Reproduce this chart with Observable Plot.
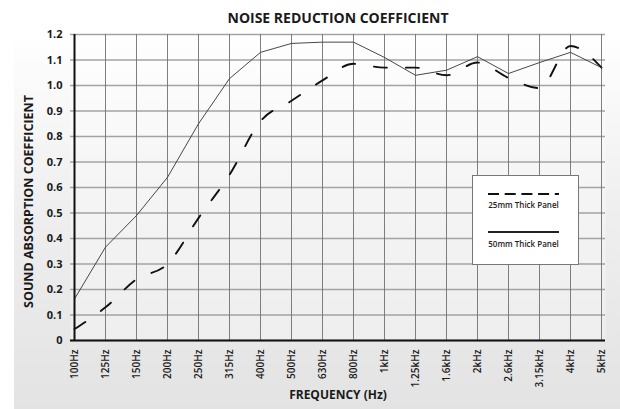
<!DOCTYPE html>
<html>
<head>
<meta charset="utf-8">
<script src="https://cdn.jsdelivr.net/npm/d3@7"></script>
<script src="https://cdn.jsdelivr.net/npm/@observablehq/plot@0.6"></script>
<style>
  html, body { margin: 0; padding: 0; background: #fff; }
  #wrap { position: relative; width: 620px; height: 409px; overflow: hidden; font-family: "Open Sans", sans-serif; }
  #bg { position: absolute; left: 14px; top: 0; width: 606px; height: 409px;
        background: linear-gradient(to bottom, #ffffff 0%, #ffffff 8%, #efefef 50%, #e3e3e3 100%); }
  #chart { position: absolute; left: 0; top: 0; }
  #legend { position: absolute; left: 472px; top: 175px; }
</style>
</head>
<body>
<div id="wrap">
  <div id="bg"></div>
  <div id="chart"></div>
  <div id="legend"></div>
</div>
<script>
const frequencies = ["100Hz","125Hz","150Hz","200Hz","250Hz","315Hz","400Hz","500Hz","630Hz","800Hz","1kHz","1.25kHz","1.6kHz","2kHz","2.6kHz","3.15kHz","4kHz","5kHz"];
const panel25mm = [0.045,0.13,0.24,0.30,0.48,0.65,0.86,0.94,1.02,1.085,1.07,1.07,1.04,1.09,1.03,0.99,1.155,1.07];
const panel50mm = [0.163,0.366,0.49,0.64,0.85,1.027,1.13,1.165,1.17,1.17,1.11,1.04,1.06,1.113,1.047,1.09,1.13,1.07];
const yTicks = [0,0.1,0.2,0.3,0.4,0.5,0.6,0.7,0.8,0.9,1.0,1.1,1.2];
const seriesNames = ["25mm Thick Panel","50mm Thick Panel"];
const titleText = "NOISE REDUCTION COEFFICIENT";
const yTitle = "SOUND ABSORPTION COEFFICIENT";
const xTitle = "FREQUENCY (Hz)";

const rows25 = frequencies.map((f, i) => ({f, v: panel25mm[i]}));
const rows50 = frequencies.map((f, i) => ({f, v: panel50mm[i]}));

const chart = Plot.plot({
  width: 620,
  height: 409,
  marginLeft: 70,
  marginRight: 15,
  marginTop: 34,
  marginBottom: 69,
  style: {background: "transparent", fontFamily: "Open Sans, sans-serif", color: "#1a1a1a"},
  x: {type: "point", domain: frequencies, padding: 0, label: null},
  y: {domain: [0, 1.2], label: null},
  marks: [
    Plot.frame({fill: "white", fillOpacity: 0.3, stroke: "none"}),
    Plot.gridY(yTicks, {stroke: "#a3a3a3", strokeWidth: 1.3, strokeOpacity: 1}),
    Plot.gridX(frequencies, {stroke: "#707070", strokeWidth: 0.9, strokeOpacity: 1}),
    Plot.line(rows25, {x: "f", y: "v", stroke: "#111", strokeWidth: 1.9, strokeDasharray: "13,19", curve: "monotone-x"}),
    Plot.line(rows50, {x: "f", y: "v", stroke: "#333", strokeWidth: 0.9}),
    Plot.ruleX([frequencies[0]], {stroke: "#111", strokeWidth: 2}),
    Plot.ruleY([0], {stroke: "#111", strokeWidth: 2}),
    Plot.axisY(yTicks, {tickSize: 0, tickPadding: 8, fontSize: 11, fontWeight: 700, label: null,
      tickFormat: d => d === 0 ? "0" : d.toFixed(1)}),
    Plot.axisX({tickSize: 0, tickPadding: 9, tickRotate: -90, fontSize: 10, fontWeight: 600, label: null}),
    Plot.text([titleText], {frameAnchor: "top", dy: -21, fontSize: 14, fontWeight: 700, fill: "#1a1a1a"}),
    Plot.text([xTitle], {frameAnchor: "bottom", dy: 58, fontSize: 12, fontWeight: 700, fill: "#1a1a1a"}),
    Plot.text([yTitle], {frameAnchor: "left", textAnchor: "middle", dx: -42, dy: 14, rotate: -90, fontSize: 12.5, fontWeight: 700, fill: "#1a1a1a"})
  ]
});
document.getElementById("chart").appendChild(chart);

// legend
const lg = d3.select("#legend").append("svg").attr("width", 108).attr("height", 91);
lg.append("rect").attr("x", 0.5).attr("y", 0.5).attr("width", 106).attr("height", 89)
  .attr("fill", "white").attr("stroke", "#777").attr("stroke-width", 1);
lg.append("line").attr("x1", 16).attr("x2", 87).attr("y1", 19).attr("y2", 19)
  .attr("stroke", "#111").attr("stroke-width", 2).attr("stroke-dasharray", "11,5.7");
lg.append("text").attr("x", 51.5).attr("y", 33).attr("text-anchor", "middle")
  .attr("font-size", 8).attr("font-weight", 600).attr("fill", "#222").text(seriesNames[0]);
lg.append("line").attr("x1", 16).attr("x2", 87).attr("y1", 57).attr("y2", 57)
  .attr("stroke", "#222").attr("stroke-width", 1.8);
lg.append("text").attr("x", 51.5).attr("y", 72).attr("text-anchor", "middle")
  .attr("font-size", 8).attr("font-weight", 600).attr("fill", "#222").text(seriesNames[1]);
</script>
</body>
</html>
